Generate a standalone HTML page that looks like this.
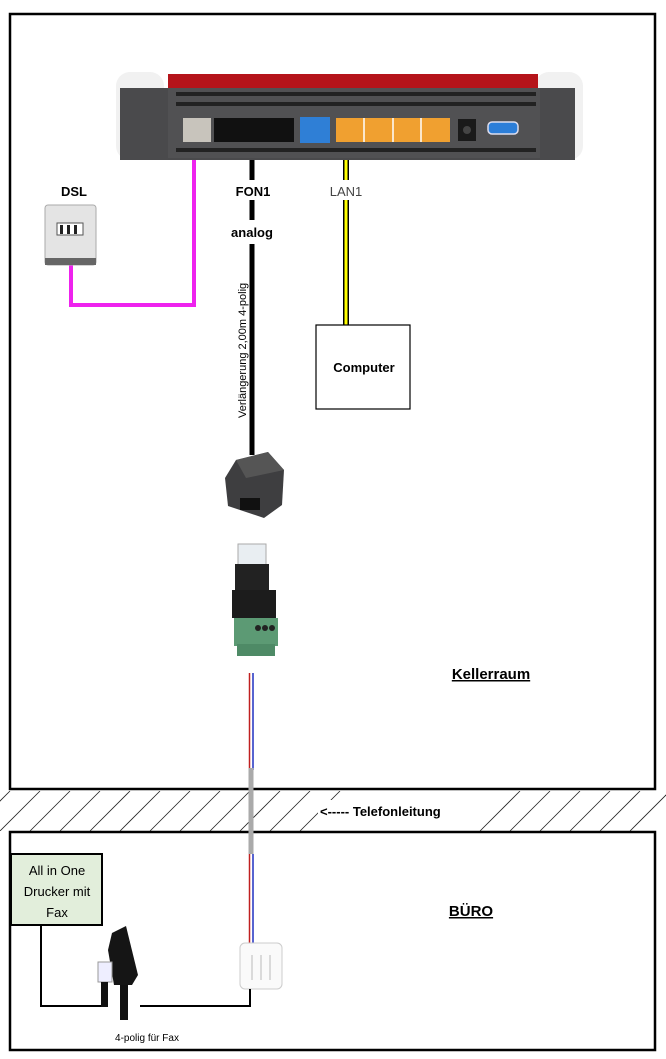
<!DOCTYPE html>
<html><head><meta charset="utf-8"><style>
html,body{margin:0;padding:0;background:#fff}
svg{display:block}
text{font-family:"Liberation Sans",sans-serif}
</style></head><body>
<svg width="666" height="1059" viewBox="0 0 666 1059" xmlns="http://www.w3.org/2000/svg">
<defs>
<clipPath id="band"><rect x="0" y="791" width="666" height="40"/></clipPath>
</defs>
<!-- hatch band -->
<g clip-path="url(#band)" stroke="#222" stroke-width="0.8">
<line x1="-30" y1="831" x2="10" y2="791"/><line x1="0" y1="831" x2="40" y2="791"/><line x1="30" y1="831" x2="70" y2="791"/><line x1="60" y1="831" x2="100" y2="791"/><line x1="90" y1="831" x2="130" y2="791"/><line x1="120" y1="831" x2="160" y2="791"/><line x1="150" y1="831" x2="190" y2="791"/><line x1="180" y1="831" x2="220" y2="791"/><line x1="210" y1="831" x2="250" y2="791"/><line x1="240" y1="831" x2="280" y2="791"/><line x1="270" y1="831" x2="310" y2="791"/><line x1="300" y1="831" x2="340" y2="791"/><line x1="480" y1="831" x2="520" y2="791"/><line x1="510" y1="831" x2="550" y2="791"/><line x1="540" y1="831" x2="580" y2="791"/><line x1="570" y1="831" x2="610" y2="791"/><line x1="600" y1="831" x2="640" y2="791"/><line x1="630" y1="831" x2="670" y2="791"/>
</g>
<rect x="318" y="800" width="140" height="22" fill="#fff"/>
<text x="320" y="816" font-size="13" font-weight="bold">&lt;----- Telefonleitung</text>
<!-- rooms -->
<rect x="10" y="14" width="645" height="775" fill="none" stroke="#000" stroke-width="2.5"/>
<rect x="10" y="832" width="645" height="218" fill="none" stroke="#000" stroke-width="2.5"/>

<!-- router -->
<rect x="116" y="72" width="48" height="88" rx="14" fill="#f1f1f1"/>
<rect x="535" y="72" width="48" height="88" rx="14" fill="#f1f1f1"/>
<rect x="168" y="74" width="370" height="16" fill="#b5141a"/>
<rect x="120" y="88" width="455" height="72" fill="#4a4a4c"/>
<rect x="168" y="88" width="372" height="70" fill="#515153"/>
<g fill="#222"><rect x="176" y="92" width="360" height="4"/><rect x="176" y="102" width="360" height="4"/><rect x="176" y="148" width="360" height="4"/></g>
<rect x="183" y="118" width="28" height="24" fill="#c8c4bc"/>
<rect x="214" y="118" width="80" height="24" fill="#111"/>
<rect x="300" y="117" width="30" height="26" fill="#2f7fd6"/>
<rect x="336" y="118" width="114" height="24" fill="#f0a030"/>
<g stroke="#fff" stroke-width="1.5"><line x1="364" y1="118" x2="364" y2="142"/><line x1="393" y1="118" x2="393" y2="142"/><line x1="421" y1="118" x2="421" y2="142"/></g>
<rect x="458" y="119" width="18" height="22" fill="#1a1a1a"/><circle cx="467" cy="130" r="4" fill="#444"/>
<rect x="488" y="122" width="30" height="12" rx="4" fill="#2c7ed8" stroke="#dde" stroke-width="1.5"/>

<!-- cables -->
<polyline points="194,160 194,305 71,305 71,265" fill="none" stroke="#ee22ee" stroke-width="4"/>
<line x1="252" y1="160" x2="252" y2="455" stroke="#000" stroke-width="5"/>
<line x1="346" y1="160" x2="346" y2="325" stroke="#000" stroke-width="6"/>
<line x1="346" y1="160" x2="346" y2="325" stroke="#ffff00" stroke-width="3"/>
<rect x="236" y="180" width="36" height="20" fill="#fff"/>
<rect x="320" y="180" width="50" height="20" fill="#fff"/>
<rect x="222" y="220" width="60" height="24" fill="#fff"/>
<rect x="236" y="265" width="12" height="160" fill="#fff"/>
<text x="253" y="196" font-size="13" font-weight="bold" text-anchor="middle">FON1</text>
<text x="346" y="196" font-size="13" text-anchor="middle" fill="#444">LAN1</text>
<text x="252" y="237" font-size="13" font-weight="bold" text-anchor="middle">analog</text>
<text transform="translate(246,418) rotate(-90)" font-size="11">Verlängerung 2,00m 4-polig</text>

<!-- DSL -->
<text x="74" y="196" font-size="13" font-weight="bold" text-anchor="middle">DSL</text>
<rect x="45" y="205" width="51" height="60" rx="3" fill="#e4e4e4" stroke="#aaa"/>
<rect x="45" y="258" width="51" height="7" fill="#666"/>
<rect x="57" y="223" width="26" height="12" fill="#fff" stroke="#555"/>
<g fill="#222"><rect x="60" y="225" width="3" height="9"/><rect x="67" y="225" width="3" height="9"/><rect x="74" y="225" width="3" height="9"/></g>

<!-- computer -->
<rect x="316" y="325" width="94" height="84" fill="#fff" stroke="#000" stroke-width="1.2"/>
<text x="364" y="372" font-size="13" font-weight="bold" text-anchor="middle">Computer</text>

<!-- adapters -->
<polygon points="236,460 268,452 284,470 282,505 264,518 228,506 225,478" fill="#3e3e40"/>
<polygon points="236,460 268,452 284,470 246,478" fill="#555"/>
<rect x="240" y="498" width="20" height="12" fill="#111"/>
<rect x="238" y="544" width="28" height="22" fill="#e9eef2" stroke="#aaa"/>
<rect x="235" y="564" width="34" height="28" fill="#222"/>
<rect x="232" y="590" width="44" height="28" fill="#1c1c1c"/>
<rect x="234" y="618" width="44" height="28" fill="#5c9a74"/>
<rect x="237" y="644" width="38" height="12" fill="#4e8a66"/>
<g fill="#222"><circle cx="258" cy="628" r="3"/><circle cx="265" cy="628" r="3"/><circle cx="272" cy="628" r="3"/></g>

<!-- lines down -->
<line x1="249.5" y1="673" x2="249.5" y2="770" stroke="#c02020" stroke-width="1.5"/>
<line x1="253" y1="673" x2="253" y2="770" stroke="#2030c0" stroke-width="1.5"/>
<line x1="251" y1="768" x2="251" y2="854" stroke="#aaa" stroke-width="5"/>
<line x1="249.5" y1="854" x2="249.5" y2="945" stroke="#c02020" stroke-width="1.5"/>
<line x1="253" y1="854" x2="253" y2="945" stroke="#2030c0" stroke-width="1.5"/>

<text x="491" y="679" font-size="15" font-weight="bold" text-anchor="middle" text-decoration="underline">Kellerraum</text>
<text x="471" y="916" font-size="15" font-weight="bold" text-anchor="middle" text-decoration="underline">BÜRO</text>

<!-- socket -->
<rect x="240" y="943" width="42" height="46" rx="5" fill="#fafafa" stroke="#ccc"/>
<g fill="none" stroke="#bbb"><line x1="252" y1="955" x2="252" y2="980"/><line x1="261" y1="955" x2="261" y2="980"/><line x1="270" y1="955" x2="270" y2="980"/></g>

<!-- printer -->
<rect x="11" y="854" width="91" height="71" fill="#e2eedb" stroke="#000" stroke-width="2"/>
<text x="57" y="875" font-size="13" text-anchor="middle">All in One</text>
<text x="57" y="896" font-size="13" text-anchor="middle">Drucker mit</text>
<text x="57" y="917" font-size="13" text-anchor="middle">Fax</text>
<polyline points="41,925 41,1006 102,1006" fill="none" stroke="#000" stroke-width="2"/>
<polyline points="140,1006 250,1006 250,989" fill="none" stroke="#000" stroke-width="2"/>
<!-- TAE plug -->
<polygon points="112,933 126,926 138,975 132,985 114,985 108,950" fill="#151515"/>
<rect x="120" y="985" width="8" height="35" fill="#111"/>
<rect x="98" y="962" width="14" height="20" fill="#eef" stroke="#999"/>
<rect x="101" y="982" width="7" height="25" fill="#111"/>
<text x="147" y="1041" font-size="10" text-anchor="middle">4-polig für Fax</text>
</svg>
</body></html>
